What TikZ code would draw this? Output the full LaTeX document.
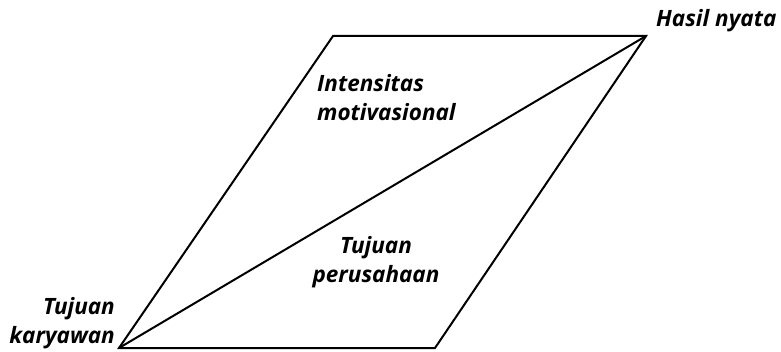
\documentclass[tikz,border=0pt]{standalone}
\usepackage{fontspec}
\setmainfont{Open Sans}
\begin{document}
\begin{tikzpicture}[x=1pt,y=-1pt,
  edge/.style={line width=2pt,line join=miter,black},
  lbl/.style={font=\fontsize{22.5}{29}\selectfont\bfseries\itshape,inner sep=0pt,align=#1},
  lbl/.default=center]
\useasboundingbox (0,0) rectangle (781,352);
\coordinate (bl) at (119,348);
\coordinate (br) at (435,348);
\coordinate (tr) at (646,36);
\coordinate (tl) at (333,36);
\draw[edge] (bl) -- (br) -- (tr) -- (tl) -- cycle;
\draw[edge] (bl) -- (tr);
\node[lbl=right,anchor=west] (hasil) at (656,21) {Hasil nyata};
\node[lbl=left,anchor=west] (intens) at (317,98) {Intensitas\\motivasional};
\node[lbl=center] (perus) at (376,262) {Tujuan\\perusahaan};
\node[lbl=right,anchor=east] (kary) at (115,323) {Tujuan\\karyawan};
\end{tikzpicture}
\end{document}
